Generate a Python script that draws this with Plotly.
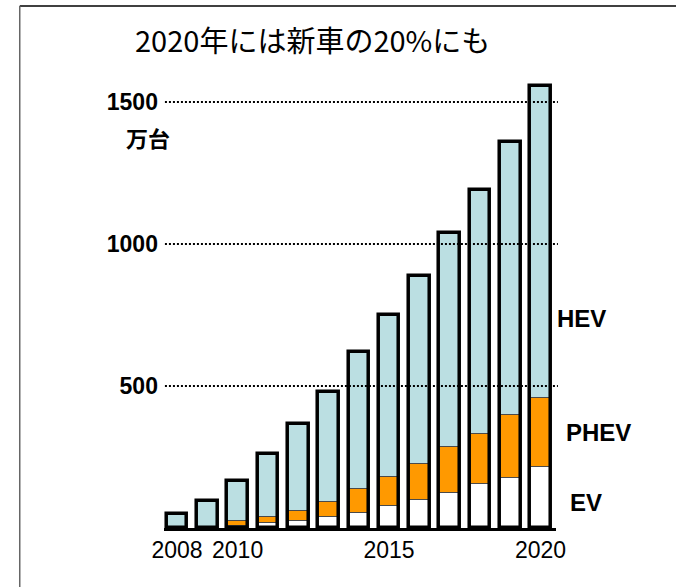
import plotly.graph_objects as go

# Annual sales of electrified vehicles (万台), stacked EV / PHEV / HEV
years = [2008, 2009, 2010, 2011, 2012, 2013, 2014, 2015, 2016, 2017, 2018, 2019, 2020]
ev = [0, 2, 8, 17, 26, 40, 54, 77, 99, 122, 155, 175, 216]
phev = [0, 3, 18, 20, 35, 53, 82, 101, 125, 164, 176, 224, 241]
hev = [50, 90, 139, 225, 304, 385, 482, 572, 664, 754, 859, 961, 1098]

x_tick_vals = [2008, 2010, 2015, 2020]
x_tick_text = ["2008", "2010", "2015", "2020"]
y_tick_vals = [500, 1000, 1500]
y_tick_text = ["500", "1000", "1500"]

title_text = "2020年には新車の20%にも"
unit_text = "万台"
series_labels = ["HEV", "PHEV", "EV"]

W, H = 686, 587
LATIN = "Liberation Sans, Arial, sans-serif"
CJK = "Noto Sans CJK JP, sans-serif"


def px_x(x):
    return x / W


def px_y(y):
    return 1 - y / H


phev_base = ev
hev_base = [a + b for a, b in zip(ev, phev)]
totals = [a + b + c for a, b, c in zip(ev, phev, hev)]

BAR_W = 0.68
seg_line = dict(color="#4a4a4a", width=1)

fig = go.Figure()
fig.add_trace(go.Bar(x=years, y=ev, base=[0] * len(years), width=BAR_W,
                     marker=dict(color="#ffffff", line=seg_line), name="EV"))
fig.add_trace(go.Bar(x=years, y=phev, base=phev_base, width=BAR_W,
                     marker=dict(color="#ff9900", line=seg_line), name="PHEV"))
fig.add_trace(go.Bar(x=years, y=hev, base=hev_base, width=BAR_W,
                     marker=dict(color="#bbdfe2", line=seg_line), name="HEV"))
# heavy outline around each whole stack
fig.add_trace(go.Bar(x=years, y=totals, base=[0] * len(years), width=BAR_W,
                     marker=dict(color="rgba(0,0,0,0)", line=dict(color="#000000", width=3.5)),
                     name="total", hoverinfo="skip"))

# dotted reference lines drawn over the bars
shapes = []
for v in y_tick_vals:
    shapes.append(dict(type="line", xref="paper", yref="y", x0=px_x(158), x1=px_x(564),
                       y0=v, y1=v, layer="above",
                       line=dict(color="#000000", width=2, dash="2px,2px")))
# frame lines along the top and left edges
shapes.append(dict(type="line", xref="paper", yref="paper", x0=px_x(8), x1=1,
                   y0=px_y(6), y1=px_y(6), line=dict(color="#000000", width=1.5)))
shapes.append(dict(type="line", xref="paper", yref="paper", x0=px_x(8), x1=px_x(8),
                   y0=px_y(6), y1=0, line=dict(color="#666666", width=1.5)))

annotations = [
    dict(text=title_text, x=px_x(310), y=px_y(39), xref="paper", yref="paper",
         showarrow=False, xanchor="center", yanchor="middle",
         font=dict(family=CJK, size=29, color="#000000")),
    dict(text=unit_text, x=px_x(140), y=px_y(137), xref="paper", yref="paper",
         showarrow=False, xanchor="center", yanchor="middle",
         font=dict(family=CJK, size=22, color="#000000", weight="bold")),
]
label_pos = {"HEV": (588, 318), "PHEV": (606, 432), "EV": (593, 502)}
for name in series_labels:
    lx, ly = label_pos[name]
    annotations.append(dict(text=name, x=px_x(lx), y=px_y(ly), xref="paper", yref="paper",
                            showarrow=False, xanchor="center", yanchor="middle",
                            font=dict(family=LATIN, size=24, color="#000000", weight="bold")))

fig.update_layout(
    width=W, height=H,
    margin=dict(l=0, r=0, t=0, b=0),
    paper_bgcolor="#ffffff", plot_bgcolor="#ffffff",
    barmode="overlay", bargap=0,
    showlegend=False,
    shapes=shapes,
    annotations=annotations,
    xaxis=dict(domain=[px_x(157), px_x(562)], range=[2007.569, 2020.51],
               tickvals=x_tick_vals, ticktext=x_tick_text, ticks="",
               showgrid=False, zeroline=False,
               showline=True, linecolor="#000000", linewidth=3,
               ticklabelstandoff=-1,
               tickfont=dict(family=LATIN, size=23, color="#000000")),
    yaxis=dict(domain=[px_y(528), px_y(80)], range=[0, 448 / 0.284],
               tickvals=y_tick_vals, ticktext=y_tick_text, ticks="",
               showgrid=False, zeroline=False, showline=False,
               ticklabelstandoff=5,
               tickfont=dict(family=LATIN, size=23, color="#000000", weight="bold")),
)

fig.write_html("out.html")
